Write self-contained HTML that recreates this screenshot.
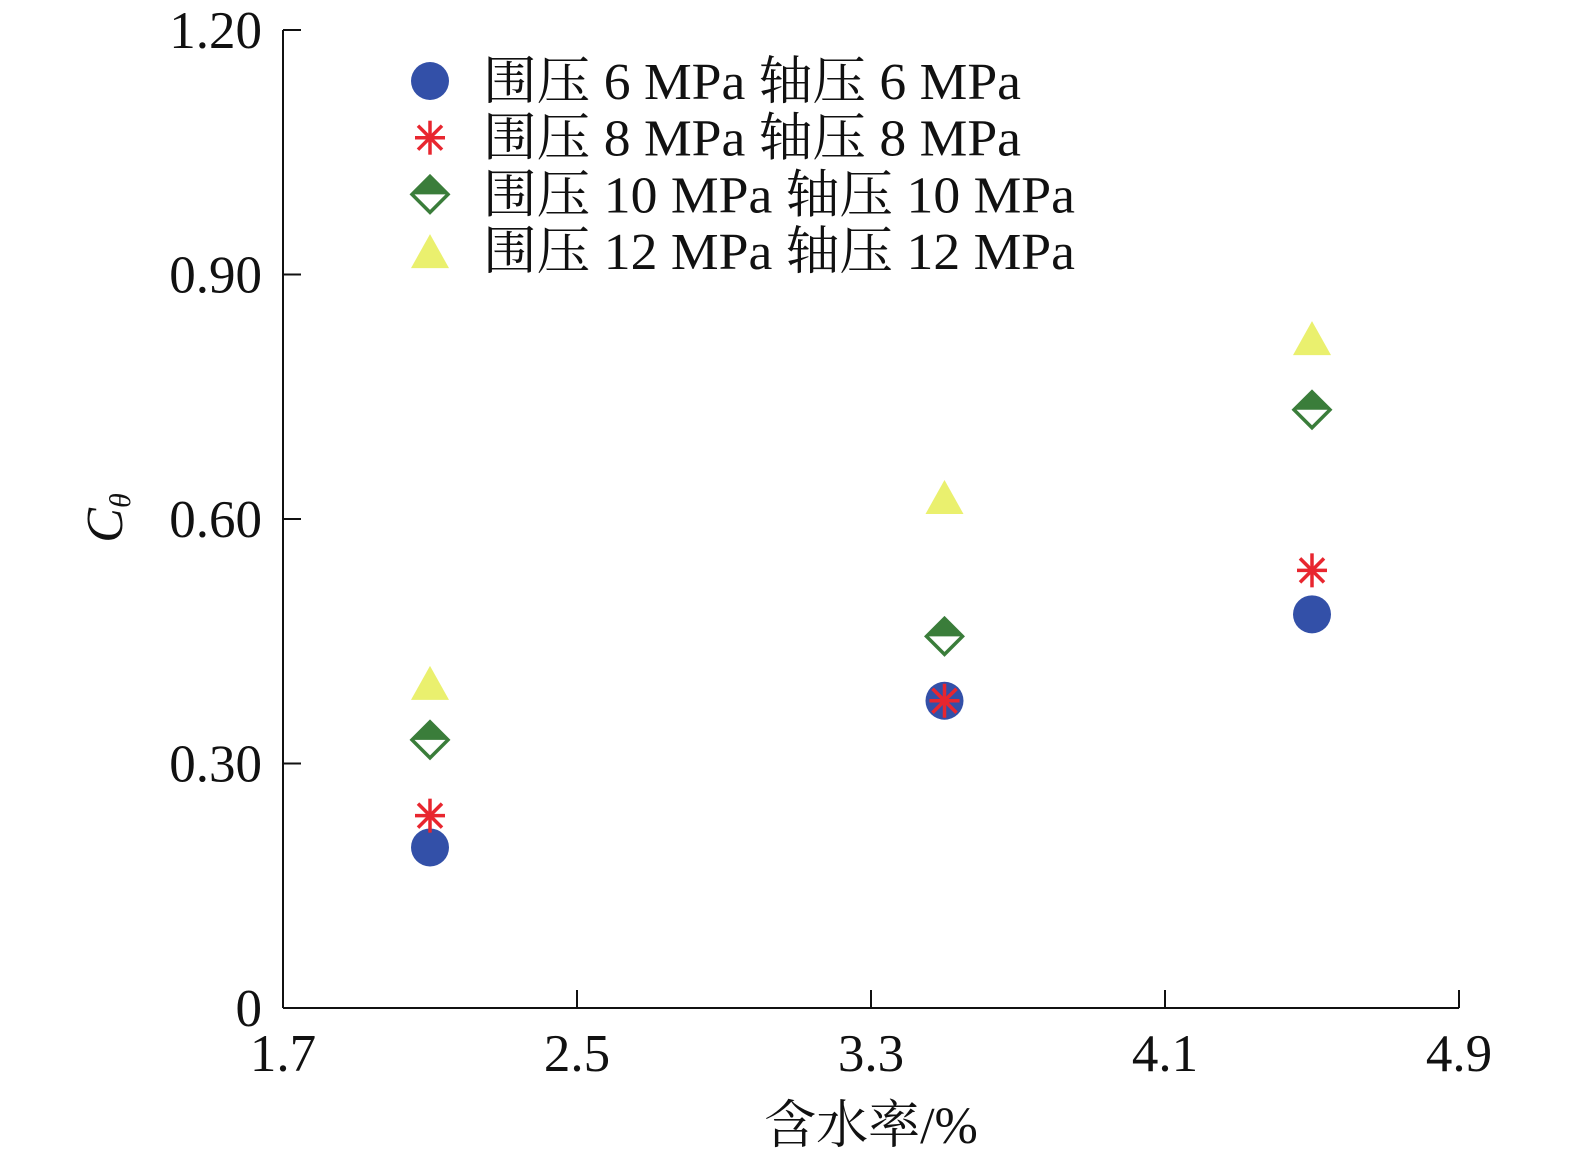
<!DOCTYPE html>
<html><head><meta charset="utf-8"><style>
body{margin:0;background:#fff}
svg text{font-family:"Liberation Serif","Noto Serif CJK SC",serif;fill:#111}
</style></head><body>
<svg id="c" width="1575" height="1165" viewBox="0 0 1575 1165" xmlns="http://www.w3.org/2000/svg">
<g id="axes"></g><g id="marks"></g><g id="legend"></g>
</svg>
<script>
const xVals=[2.1,3.5,4.5];
const s6=[0.197,0.377,0.483];
const s8=[0.236,0.377,0.537];
const s10=[0.329,0.456,0.734];
const s12=[0.399,0.627,0.822];
const xTicks=[1.7,2.5,3.3,4.1,4.9];
const xTickLabels=["1.7","2.5","3.3","4.1","4.9"];
const yTicks=[0,0.3,0.6,0.9,1.2];
const yTickLabels=["0","0.30","0.60","0.90","1.20"];
const legendLabels=["围压 6 MPa 轴压 6 MPa","围压 8 MPa 轴压 8 MPa","围压 10 MPa 轴压 10 MPa","围压 12 MPa 轴压 12 MPa"];
const NS="http://www.w3.org/2000/svg";
const X=v=>283+(v-1.7)*367.5, Y=v=>1008-v*815;
function mk(t,a,p){const e=document.createElementNS(NS,t);for(const k in a)e.setAttribute(k,a[k]);p.appendChild(e);return e;}
const ax=document.getElementById('axes'),mg=document.getElementById('marks'),lg=document.getElementById('legend');
let l=mk('line',{x1:283,y1:30,x2:283,y2:1008,stroke:'#111','stroke-width':2},ax);

l=mk('line',{x1:283,y1:1008,x2:1459,y2:1008,stroke:'#111','stroke-width':2},ax);

xTicks.forEach((v,i)=>{const t=mk('line',{x1:X(v),y1:990,x2:X(v),y2:1008,stroke:'#111','stroke-width':2},ax);

const tx=mk('text',{x:X(v),y:1071,'text-anchor':'middle','font-size':53},ax);tx.textContent=xTickLabels[i];
});
yTicks.forEach((v,i)=>{const t=mk('line',{x1:283,y1:Y(v),x2:301,y2:Y(v),stroke:'#111','stroke-width':2},ax);

const tx=mk('text',{x:262,y:Y(v)+18,'text-anchor':'end','font-size':53},ax);tx.textContent=yTickLabels[i];
});
let xt=mk('text',{x:871,y:1143,'text-anchor':'middle','font-size':52},ax);xt.textContent='含水率/%';

let yt=mk('text',{transform:'translate(122,518) rotate(-90)','text-anchor':'middle','font-size':52,'font-style':'italic'},ax);
yt.innerHTML='C<tspan font-size="30" dy="8">θ</tspan>';

function circle(x,y,p){return mk('circle',{cx:x,cy:y,r:19,fill:'#3350a8'},p);}
function star(x,y,p){const g=mk('g',{stroke:'#e8262f','stroke-width':3.5},p);
[[0,-17,0,17],[-15,0,15,0],[-12,-12,12,12],[-12,12,12,-12]].forEach(a=>mk('line',{x1:x+a[0],y1:y+a[1],x2:x+a[2],y2:y+a[3]},g));return g;}
function diamond(x,y,p){const g=mk('g',{},p);
mk('path',{d:`M${x-19},${y}L${x},${y-19}L${x+19},${y}Z`,fill:'#3a7d3a'},g);
mk('path',{d:`M${x-18},${y}L${x},${y-18}L${x+18},${y}L${x},${y+18}Z`,fill:'none',stroke:'#3a7d3a','stroke-width':3.5},g);return g;}
function tri(x,y,p){return mk('path',{d:`M${x},${y-17}L${x+19},${y+17}L${x-19},${y+17}Z`,fill:'#eaf06e'},p);}
const series=[[s6,circle,'series-6mpa'],[s8,star,'series-8mpa'],[s10,diamond,'series-10mpa'],[s12,tri,'series-12mpa']];
series.forEach(([d,f,n])=>d.forEach((v,i)=>{const e=f(X(xVals[i]),Y(v),mg);
}));
legendLabels.forEach((t,i)=>{const y=81+i*56.7;const m=series[i][1](430,y,lg);

const tx=mk('text',{x:483,y:y+18,'font-size':52,'textLength':(i<2?538:592),'lengthAdjust':'spacingAndGlyphs'},lg);tx.textContent=t;
});
</script>
</body></html>
